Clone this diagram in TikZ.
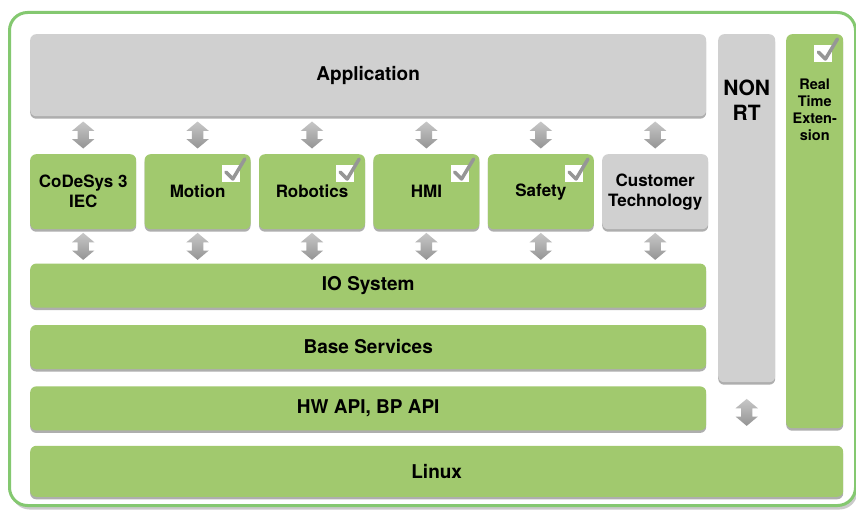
\documentclass[tikz,border=0pt]{standalone}
\usepackage{fontspec}
\setmainfont{TeX Gyre Heros}
\usetikzlibrary{positioning, shapes.arrows, shadows, calc}

\definecolor{layergreen}{RGB}{161,201,110}
\definecolor{layergray}{RGB}{208,208,208}
\definecolor{framegreen}{RGB}{132,200,112}
\definecolor{checkgray}{RGB}{150,150,150}

% white box with a grey tick, top right corner of a node
\newcommand{\markdone}[1]{%
    \fill[white] ($(#1.north east)+(-29,11)$) rectangle ($(#1.north east)+(-11,28)$);
    \draw[checkgray, line width=3.5pt, line cap=round, line join=round]
        ($(#1.north east)+(-25,18)$) -- ($(#1.north east)+(-18,25)$) -- ($(#1.north east)+(-6,5)$);
}

\begin{document}
\begin{tikzpicture}[
        x=1pt, y=-1pt,
        font=\bfseries,
        frame/.style={draw=framegreen, fill=white, line width=3pt, rounded corners=18pt,
            drop shadow={shadow xshift=2pt, shadow yshift=-4pt, opacity=0.35, fill=black!60}},
        layer/.style={rectangle, rounded corners=6pt, align=center, inner sep=2pt,
            drop shadow={shadow xshift=0pt, shadow yshift=-2.5pt, opacity=0.45, fill=black!70}},
        green-layer/.style={layer, fill=layergreen},
        gray-layer/.style={layer, fill=layergray},
        wide/.style={minimum width=676pt, minimum height=44pt, anchor=north west,
            font=\bfseries\fontsize{19}{22}\selectfont},
        module/.style={minimum width=106pt, minimum height=75pt,
            font=\bfseries\fontsize{17}{20}\selectfont},
        column/.style={minimum width=57pt, anchor=north west},
        link/.style={double arrow, shape border rotate=90, inner sep=5.5pt,
            minimum height=27pt, minimum width=22pt,
            double arrow head extend=5.5pt, double arrow tip angle=100,
            top color=black!22, bottom color=black!42, draw=none},
    ]
    \useasboundingbox (0,0) rectangle (856,511);
    \node[frame, minimum width=846pt, minimum height=493pt, anchor=north west] (frame) at (8,11) {};

    % upper part
    \node[gray-layer, wide, minimum height=82pt] (app) at (30,34) {Application};
    \node[green-layer, module, anchor=north west] (codesys) at (30,154) {CoDeSys 3\\IEC};
    \node[green-layer, module, right=8pt of codesys] (motion) {Motion};
    \node[green-layer, module, right=8pt of motion] (robotics) {Robotics};
    \node[green-layer, module, right=8pt of robotics] (hmi) {HMI};
    \node[green-layer, module, right=8pt of hmi] (safety) {Safety};
    \node[gray-layer, module, right=8pt of safety] (custom) {Customer\\Technology};

    % lower layers
    \node[green-layer, wide] (io) at ($(codesys.south west)+(0,34)$) {IO System};
    \node[green-layer, wide] (base) at ($(io.south west)+(0,17)$) {Base Services};
    \node[green-layer, wide] (hwapi) at ($(base.south west)+(0,17)$) {HW API, BP API};
    \node[green-layer, wide, minimum width=813pt, minimum height=51pt] (linux)
        at ($(hwapi.south west)+(0,15)$) {Linux};

    % side columns
    \node[gray-layer, column, minimum height=348pt] (nonrt) at (718,34) {}
        node[font=\bfseries\fontsize{21}{25}\selectfont, align=center, anchor=north, inner sep=0pt]
        (nonrt-text) at ($(nonrt.north)+(0,46)$) {NON\\RT};
    \node[green-layer, column, minimum height=394pt] (rtext) at (786,34) {}
        node[font=\bfseries\fontsize{14.5}{17}\selectfont, align=center, anchor=north, inner sep=0pt]
        (rtext-text) at ($(rtext.north)+(0,45)$) {Real\\Time\\Exten-\\sion};

    % arrows
    \foreach \m in {codesys, motion, robotics, hmi, safety, custom} {
        \node[link] (up-\m) at ($(\m.north)+(0,-19)$) {};
        \node[link] (down-\m) at ($(\m.south)+(0,17)$) {};
    }
    \node[link] (nonrt-linux) at ($(nonrt.south)+(0,30)$) {};

    % ticks
    \markdone{motion}
    \markdone{robotics}
    \markdone{hmi}
    \markdone{safety}
    \markdone{rtext}
\end{tikzpicture}
\end{document}
